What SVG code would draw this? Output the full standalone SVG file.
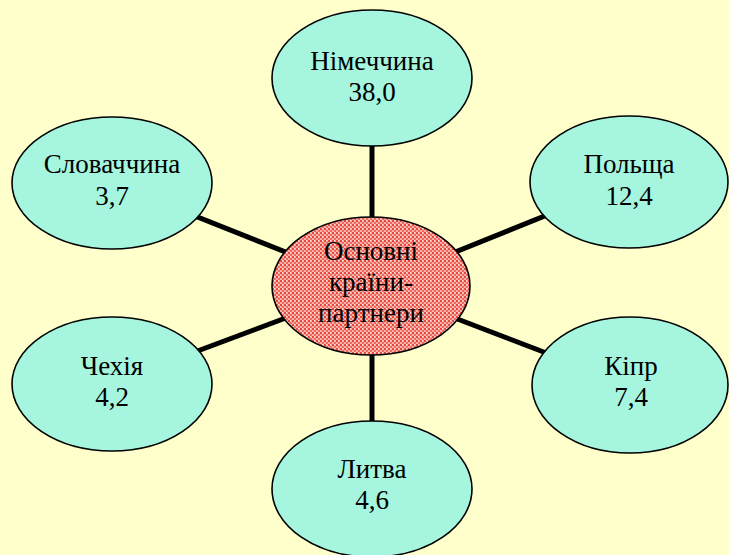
<svg xmlns="http://www.w3.org/2000/svg" width="729" height="555" viewBox="0 0 729 555">
<style>
.n{fill:#A6F5DE;stroke:#000;stroke-width:1.6}
text{font-family:'Liberation Serif',Tinos,'Times New Roman',Times,'DejaVu Serif',serif;font-size:27px;fill:#000;text-anchor:middle}
.c{stroke:#000;stroke-width:5;fill:none}
</style>
<defs>
<pattern id="dots" width="4" height="4" patternUnits="userSpaceOnUse">
<rect width="4" height="4" fill="#F6B0A8"/>
<rect x="0" y="0" width="2" height="2" fill="#E8463C"/>
<rect x="2" y="2" width="2" height="2" fill="#EC6A60"/>
<rect x="2" y="0" width="1" height="1" fill="#FFE8E0"/>
</pattern>
</defs>
<rect width="729" height="555" fill="#FFFFCC"/>
<g id="connectors">
<line class="c" x1="372" y1="78" x2="372" y2="490"/>
<line class="c" x1="112" y1="183" x2="371" y2="286"/>
<line class="c" x1="629" y1="182" x2="371" y2="286"/>
<line class="c" x1="112" y1="383" x2="371" y2="286"/>
<line class="c" x1="630" y1="385" x2="371" y2="286"/>
</g>
<g id="center">
<ellipse cx="371" cy="286" rx="99" ry="69" fill="url(#dots)" stroke="#000" stroke-width="1.6"/>
<text x="371" y="260">Основні</text>
<text x="371" y="291">країни-</text>
<text x="371" y="322">партнери</text>
</g>
<g id="germany">
<ellipse class="n" cx="372" cy="78" rx="100" ry="68"/>
<text x="372" y="70">Німеччина</text>
<text x="372" y="101">38,0</text>
</g>
<g id="slovakia">
<ellipse class="n" cx="112" cy="183" rx="100" ry="66"/>
<text x="112" y="173">Словаччина</text>
<text x="112" y="205">3,7</text>
</g>
<g id="poland">
<ellipse class="n" cx="629" cy="182" rx="99" ry="66"/>
<text x="629" y="173">Польща</text>
<text x="629" y="205">12,4</text>
</g>
<g id="czechia">
<ellipse class="n" cx="112" cy="384" rx="100" ry="67"/>
<text x="112" y="375">Чехія</text>
<text x="112" y="406">4,2</text>
</g>
<g id="cyprus">
<ellipse class="n" cx="630" cy="385" rx="98" ry="68"/>
<text x="631" y="375">Кіпр</text>
<text x="631" y="406">7,4</text>
</g>
<g id="lithuania">
<ellipse class="n" cx="372" cy="489" rx="100" ry="68"/>
<text x="372" y="478">Литва</text>
<text x="372" y="509">4,6</text>
</g>
</svg>
